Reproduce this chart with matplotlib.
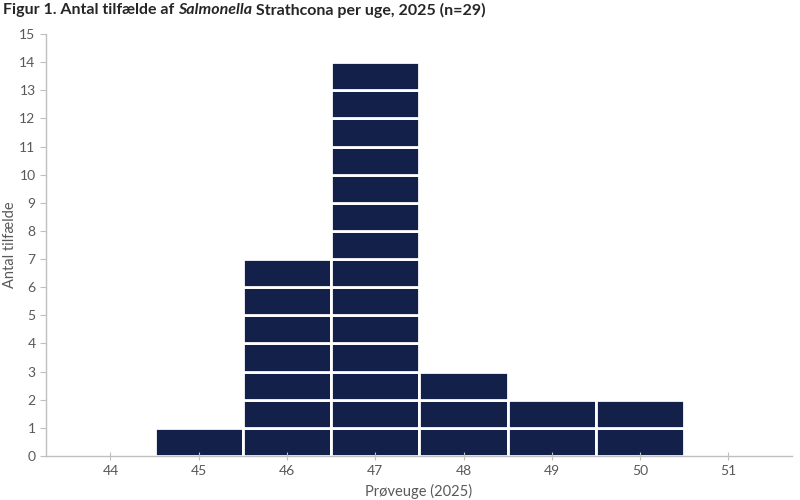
import matplotlib
matplotlib.use("Agg")
from matplotlib import pyplot as plt

# data
weeks = [45, 46, 47, 48, 49, 50]
cases = [1, 7, 14, 3, 2, 2]
xticks = [44, 45, 46, 47, 48, 49, 50, 51]
yticks = list(range(0, 16))

bar_color = '#13204a'
text_color = '#595959'
spine_color = '#bfbfbf'

plt.rcParams['font.family'] = ['Lato', 'DejaVu Sans']

fig = plt.figure(figsize=(8, 5), dpi=100)
ax = fig.add_axes([0.0575, 0.088, 0.9325, 0.844])

# one block per case, stacked
for week, n in zip(weeks, cases):
    ax.bar([week] * n, [1] * n, bottom=list(range(n)), width=1.0,
           color=bar_color, edgecolor='white', linewidth=2.0)

ax.set_xlim(43.27, 51.72)
ax.set_ylim(0, 15)
ax.set_xticks(xticks)
ax.set_yticks(yticks)
ax.tick_params(axis='both', colors=spine_color, labelcolor=text_color,
               labelsize=10, length=4, width=0.8)
ax.tick_params(axis='x', direction='inout', length=6)

for side in ['top', 'right']:
    ax.spines[side].set_visible(False)
for side in ['left', 'bottom']:
    ax.spines[side].set_color(spine_color)
    ax.spines[side].set_linewidth(1.0)

ax.set_xlabel('Prøveuge (2025)', fontsize=10.5, color=text_color, labelpad=5)
ax.set_ylabel('Antal tilfælde', fontsize=10.5, color=text_color, labelpad=2)

# title with italic species name
parts = [('Figur 1. Antal tilfælde af ', 'normal'),
         ('Salmonella', 'italic'),
         (' Strathcona per uge, 2025 (n=29)', 'normal')]
renderer = fig.canvas.get_renderer()
x = 3
for s, style in parts:
    t = fig.text(x / 800, 1 - 10 / 500, s, fontsize=11.5, fontweight='bold',
                 style=style, color='#262626', ha='left', va='center')
    bb = t.get_window_extent(renderer=renderer)
    x = bb.x1

fig.savefig('out.png', dpi=100)
